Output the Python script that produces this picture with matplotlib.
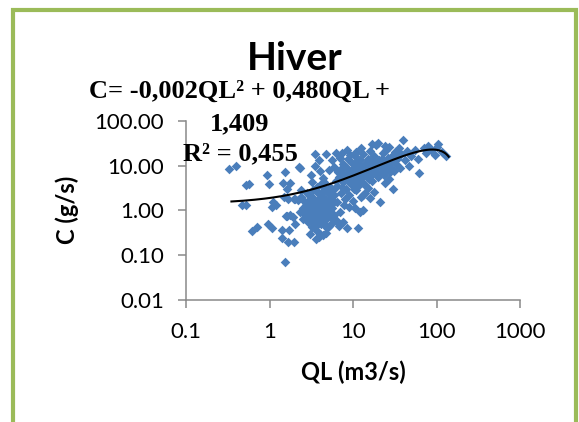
import numpy as np
import matplotlib
matplotlib.use("Agg")
import matplotlib.pyplot as plt
from matplotlib.patches import Rectangle

# QL (m3/s) and C (g/s)
ql = [0.33, 0.40, 0.52, 0.57, 0.47, 0.53, 0.61, 0.70, 0.93, 0.98, 0.97, 1.08, 1.1, 1.2, 1.07,
      1.55, 1.45, 1.75, 1.6, 1.5, 1.65, 1.95, 1.58, 1.75, 1.93, 1.62, 1.42, 1.42, 1.66, 1.95,
      1.53, 1.7, 2.0, 2.25, 2.35, 2.4, 2.2, 2.0,
      2.5, 2.6, 2.7, 2.8, 2.9, 3.0, 3.0, 3.1, 3.2, 3.3, 3.3, 3.4, 3.5, 3.5, 3.6, 3.7, 3.7, 3.8,
      3.8, 3.9, 3.9, 4.0, 4.0, 4.1, 4.2, 4.2, 4.3, 4.4, 4.5, 4.6, 4.6, 4.7, 4.8, 4.9, 5.0, 5.1,
      5.2, 5.3, 5.4, 5.5, 5.6, 5.7, 5.8, 5.9, 6.0, 2.6, 2.8, 3.1, 3.4, 3.6, 3.9, 4.3, 4.7, 5.1,
      2.9, 3.2, 3.5, 3.8, 4.1, 4.4, 4.9, 5.3, 6.2, 6.5, 6.8, 2.4, 2.3, 2.55, 3.05, 3.35, 3.75,
      4.15, 4.5, 3.1, 3.2, 3.55, 3.9, 4.8, 5.6, 5.9, 6.2, 5.1, 4.4, 4.0, 3.5,
      6.5, 6.8, 7.0, 7.2, 7.5, 7.5, 7.8, 8.0, 8.2, 8.4, 8.6, 8.8, 9.0, 9.2, 9.4, 9.6, 9.8, 10,
      10, 10.5, 10.5, 11, 11, 11.5, 11.5, 12, 12, 12.5, 12.5, 13, 13, 13.5, 14, 14, 14.5, 15,
      15, 15.5, 16, 16, 17, 17, 17.5, 18, 18, 19, 19, 20, 20, 21, 21, 22, 22, 23, 24, 24, 25,
      25, 26, 27, 27, 28, 29, 30, 30, 31, 32, 33, 34, 36, 37, 38, 40, 42, 44, 47, 50, 55, 60,
      62, 70, 75, 80, 85, 95, 105, 115, 130, 100,
      8.4, 7.6, 11.5, 12, 13.3, 9.0, 7.0, 6.5, 6.0, 7.8, 10.5, 16, 13,
      6.3, 6.6, 7.3, 7.9, 8.3, 8.9, 9.5, 10.2, 10.8, 11.3, 11.8, 12.3, 12.8, 13.8, 14.3, 14.8,
      15.8, 16.5, 17.5, 18.5, 19.5, 20.5, 22.5, 23.5, 26, 28, 9.3, 11.0, 7.3, 6.9, 8.5,
      12.5, 17, 24,
      2.7, 3.0, 3.3, 3.6, 3.9, 4.2, 4.5, 2.8, 3.4, 4.0, 4.6, 5.2, 3.7, 4.3, 3.1]
c = [8.4, 9.9, 3.6, 3.9, 1.35, 1.3, 0.34, 0.43, 6.1, 3.8, 0.50, 0.40, 1.55, 1.3, 1.2,
     7.2, 4.0, 4.0, 3.0, 2.0, 1.75, 1.8, 0.75, 0.78, 0.72, 0.76, 0.37, 0.24, 0.20, 0.20,
     0.069, 0.36, 0.5, 9.3, 8.8, 2.8, 1.7, 1.75,
     1.1, 0.85, 1.3, 0.7, 1.6, 0.95, 2.2, 0.6, 1.2, 0.8, 1.9, 1.05, 0.55, 1.5, 0.9, 0.35, 2.6, 1.25,
     0.7, 0.25, 1.8, 0.3, 1.0, 0.5, 1.4, 2.1, 0.8, 0.28, 1.15, 0.6, 3.0, 1.7, 0.95, 0.4, 2.4, 1.3,
     0.75, 3.4, 1.9, 0.5, 1.1, 2.8, 0.65, 1.5, 2.2, 1.6, 2.4, 1.45, 0.45, 0.23, 0.95, 1.6, 0.32, 0.45,
     0.55, 0.42, 1.15, 1.55, 2.5, 0.7, 1.2, 0.9, 0.6, 0.55, 0.45, 2.0, 0.9, 0.65, 0.3, 2.9, 3.3,
     3.8, 4.3, 6.0, 4.4, 18.5, 13, 18, 13, 9.4, 18.6, 7.9, 5.2, 7.5, 9.8,
     3.5, 5.5, 8.0, 2.5, 4.2, 11, 6.5, 1.8, 3.0, 9.0, 5.0, 14, 2.2, 7.0, 3.8, 11.5, 5.8, 1.6,
     8.5, 4.5, 16, 2.8, 6.5, 10, 3.5, 13, 5.2, 2.0, 8.0, 4.0, 18, 6.0, 11, 2.5, 7.5, 3.2,
     14, 5.0, 9.0, 21, 4.5, 12, 6.8, 2.6, 16, 8.5, 28, 5.5, 31, 10.5, 1.5, 14, 7.0, 19, 4.0, 11, 8.0,
     22, 15, 5.0, 26, 9.5, 12.5, 17, 3.0, 7.5, 20, 11, 14, 25, 9.0, 18, 38, 13, 21, 10, 16, 22, 14,
     6.8, 25, 19, 27, 22, 17, 30, 20, 16, 26,
     0.4, 0.56, 0.4, 0.93, 1.0, 1.2, 0.9, 1.5, 0.8, 1.3, 1.1, 1.9, 2.2,
     4.5, 7.0, 3.3, 9.8, 5.8, 4.2, 6.2, 3.0, 12, 7.8, 4.8, 9.5, 6.6, 3.6, 8.6, 5.6,
     10.5, 6.2, 8.8, 11, 6.6, 13, 9.5, 6.2, 11.5, 7.0, 17, 20, 19, 14.5, 22,
     25, 30, 27,
     1.0, 0.75, 0.65, 1.35, 0.6, 0.9, 0.5, 1.15, 1.7, 0.62, 0.85, 1.6, 0.48, 1.2, 0.88]

# polynomial trendline as drawn (coefficients high to low)
trend_coef = [-0.0027, 0.48, 1.409]
trend_range = [0.35, 140]

xticks = [0.1, 1, 10, 100, 1000]
xlabels = ["0.1", "1", "10", "100", "1000"]
yticks = [0.01, 0.1, 1, 10, 100]
ylabels = ["0.01", "0.10", "1.00", "10.00", "100.00"]

eq_lines = ["C= -0,002QL² + 0,480QL +", "1,409", "R² = 0,455"]

fig = plt.figure(figsize=(5.79, 4.22), dpi=100)
ax = fig.add_axes([186 / 579, 122 / 422, 334 / 579, 179.3 / 422])

ax.scatter(ql, c, marker="D", s=24, color="#4A7EBB", linewidths=0, zorder=2)

xt = np.logspace(np.log10(trend_range[0]), np.log10(trend_range[1]), 200)
ax.plot(xt, np.polyval(trend_coef, xt), color="black", lw=1.5, zorder=3)

ax.set_xscale("log")
ax.set_yscale("log")
ax.set_xlim(0.1, 1000)
ax.set_ylim(0.01, 100)
ax.set_xticks(xticks, xlabels)
ax.set_yticks(yticks, ylabels)
ax.minorticks_off()

for s in ["top", "right"]:
    ax.spines[s].set_visible(False)
for s in ["left", "bottom"]:
    ax.spines[s].set_color("#898989")
    ax.spines[s].set_linewidth(1.1)
ax.tick_params(axis="both", length=6, width=1.1, color="#898989", pad=10,
               labelsize=16, labelfontfamily="Lato")

ax.set_xlabel("QL (m3/s)", fontsize=17, fontweight="bold", family="Lato", labelpad=13)
ax.set_ylabel("C (g/s)", fontsize=17, fontweight="bold", family="Lato", labelpad=11)

fig.text(295 / 579, 1 - 59 / 422, "Hiver", fontsize=28, fontweight="bold", family="Lato",
         ha="center", va="center")
for line, base in zip(eq_lines, [98, 130, 160]):
    fig.text(240 / 579, 1 - base / 422, line, fontsize=19, fontweight="bold",
             family="Liberation Serif", ha="center", va="baseline")

fig.patches.append(Rectangle((13 / 579, -0.05), 563 / 579, 1.05 - 9.5 / 422,
                             transform=fig.transFigure, fill=False,
                             edgecolor="#9BBB59", lw=3))

fig.savefig("out.png", dpi=100)
